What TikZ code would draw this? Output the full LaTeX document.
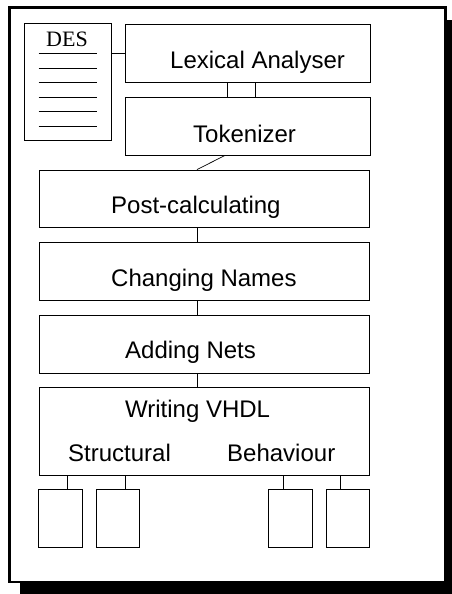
\documentclass[tikz,border=0pt]{standalone}
\usepackage{fontspec}
\setmainfont{Liberation Sans}
\newfontfamily\desfont{Liberation Serif}
\tikzset{
  box/.style={draw=black, line width=0.8pt, fill=white, inner sep=0pt, minimum width=#1},
  lbl/.style={anchor=base west, inner sep=0pt, font=\fontsize{24}{28}\selectfont},
  conn/.style={draw=black, line width=0.7pt},
}
\begin{document}
\begin{tikzpicture}[x=1pt,y=-1pt]
\useasboundingbox (0,0) rectangle (452,594);
% frame with shadow
\fill[black] (20,20) rectangle (452,594);
\draw[fill=white, line width=2.5pt] (9.5,7.5) rectangle (445.5,582);
% DES document
\node[box=87pt, minimum height=117pt] (des) at (67.5,81.5) {};
\node[anchor=base, inner sep=0pt, font=\desfont\fontsize{22}{26}\selectfont] (destext) at (67,47) {DES};
\foreach \yy [count=\i] in {53,68,82,97,111,126}
  \draw[line width=0.7pt] (des.west |- 0,\yy) ++(15pt,0) coordinate (dl\i) -- ++(58pt,0) coordinate (dr\i);
% main boxes
\node[box=245pt, minimum height=58pt] (lex) at (247.5,53) {};
\node[box=245pt, minimum height=58pt] (tok) at (247.5,126) {};
\node[box=330pt, minimum height=57pt] (post) at (204,198.5) {};
\node[box=330pt, minimum height=58pt] (chg) at (204,271) {};
\node[box=330pt, minimum height=58pt] (add) at (204,344) {};
\node[box=330pt, minimum height=88pt] (vhdl) at (204,431) {};
% small output boxes
\node[box=44pt, minimum height=58pt] (b1) at (60,518) {};
\node[box=43pt, minimum height=58pt] (b2) at (117.5,518) {};
\node[box=44pt, minimum height=58pt] (b3) at (290,518) {};
\node[box=43pt, minimum height=58pt] (b4) at (347.5,518) {};
% labels
\node[lbl] (lexl) at (170,69) {Lexical Analyser};
\node[lbl] (tokl) at (193,142) {Tokenizer};
\node[lbl] (postl) at (111,213) {Post-calculating};
\node[lbl] (chgl) at (111,286) {Changing Names};
\node[lbl] (addl) at (125,358) {Adding Nets};
\node[lbl] (vhdll) at (125,417) {Writing VHDL};
\node[lbl] (strl) at (68,461) {Structural};
\node[lbl] (behl) at (227,461) {Behaviour};
% connectors
\draw[conn] (des.east |- lex.center) -- (lex.west);
\draw[conn] ([xshift=-20.5pt]lex.south) -- ([xshift=-20.5pt]tok.north);
\draw[conn] ([xshift=7.5pt]lex.south) -- ([xshift=7.5pt]tok.north);
\draw[conn] ([xshift=-22.5pt]tok.south) -- ([xshift=-7pt]post.north);
\draw[conn] ([xshift=-7pt]post.south) -- ([xshift=-7pt]chg.north);
\draw[conn] ([xshift=-7pt]chg.south) -- ([xshift=-7pt]add.north);
\draw[conn] ([xshift=-7pt]add.south) -- ([xshift=-7pt]vhdl.north);
\draw[conn] ([xshift=7pt]b1.north) -- ([xshift=7pt]b1.north |- vhdl.south);
\draw[conn] ([xshift=7.5pt]b2.north) -- ([xshift=7.5pt]b2.north |- vhdl.south);
\draw[conn] ([xshift=-7pt]b3.north) -- ([xshift=-7pt]b3.north |- vhdl.south);
\draw[conn] ([xshift=-7.5pt]b4.north) -- ([xshift=-7.5pt]b4.north |- vhdl.south);
\end{tikzpicture}
\end{document}
